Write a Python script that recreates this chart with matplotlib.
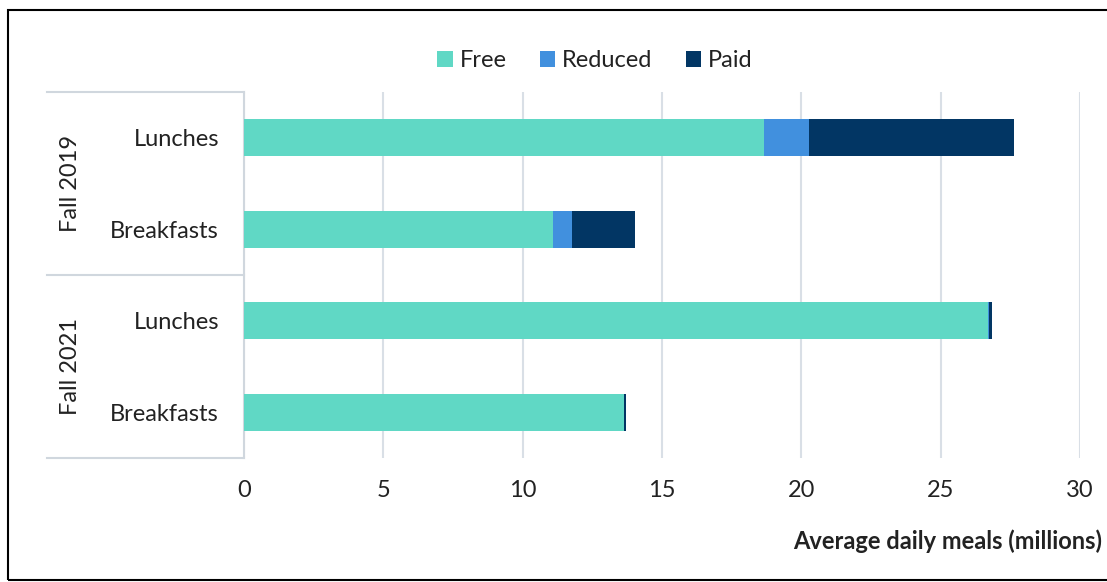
import matplotlib.pyplot as plt
import matplotlib.patches as patches
from matplotlib.lines import Line2D
import numpy as np

plt.rcParams['font.family'] = ['Lato', 'DejaVu Sans']

# data (millions of average daily meals)
categories = ['Lunches', 'Breakfasts', 'Lunches', 'Breakfasts']
groups = ['Fall 2019', 'Fall 2021']
free = [18.66, 11.09, 26.70, 13.62]
reduced = [1.61, 0.68, 0.05, 0.03]
paid = [7.36, 2.26, 0.09, 0.05]
series_names = ['Free', 'Reduced', 'Paid']
colors = ['#60d8c5', '#4190de', '#023664']

fs = 17

fig = plt.figure(figsize=(11.07, 5.82), dpi=100)
ax = fig.add_axes([244/1107, 1-458/582, 836/1107, 366/582])

ypos = np.arange(len(categories))[::-1]
left = np.zeros(len(categories))
for name, vals, c in zip(series_names, [free, reduced, paid], colors):
    ax.barh(ypos, vals, left=left, height=0.4, color=c, label=name, zorder=3)
    left += np.array(vals)

ax.set_xlim(0, 30)
ax.set_ylim(-0.5, 3.5)
ax.set_xticks(range(0, 31, 5))
ax.xaxis.grid(True, color='#d9dfe6', linewidth=1.5, zorder=0)
ax.set_yticks(ypos)
ax.set_yticklabels(categories)
ax.tick_params(axis='both', length=0, labelsize=fs, colors='#222222')
ax.tick_params(axis='y', pad=18)
ax.tick_params(axis='x', pad=16)
for s in ['top', 'right', 'bottom']:
    ax.spines[s].set_visible(False)
ax.spines['left'].set_color('#d0d7de')
ax.spines['left'].set_linewidth(1.5)

# group separators and labels
for yf in [0.0, 0.5, 1.0]:
    ax.add_line(Line2D([-0.236, 0], [yf, yf], transform=ax.transAxes,
                       color='#d0d7de', linewidth=1.5, clip_on=False))
for i, g in enumerate(groups):
    ax.text(-0.208, 0.75 - 0.5*i, g, transform=ax.transAxes, rotation=90,
            ha='center', va='center', fontsize=fs, color='#222222')

ax.set_xlabel('Average daily meals (millions)', fontsize=fs, fontweight='bold',
              color='#222222')
ax.xaxis.set_label_coords(1.027, -0.195)
ax.xaxis.label.set_ha('right')

ax.legend(loc='center', bbox_to_anchor=(0.42, 1.085), ncol=3, frameon=False,
          fontsize=fs, handlelength=0.65, handleheight=0.65, handletextpad=0.3,
          columnspacing=1.4, labelcolor='#222222')

# outer frame
fig.patches.append(patches.Rectangle((8/1107, 2/582), 1.0, 570/582, transform=fig.transFigure,
                                     fill=False, edgecolor='black', linewidth=1.5))

fig.savefig('out.png', dpi=100)
